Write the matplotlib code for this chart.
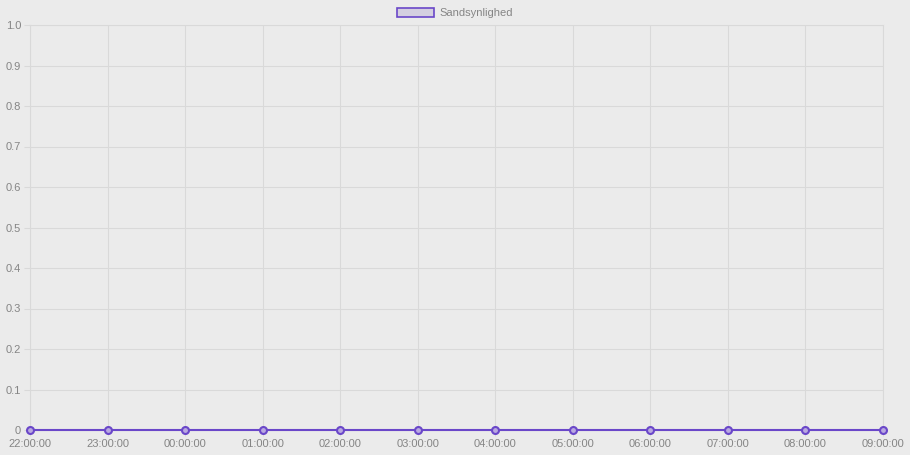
import matplotlib
matplotlib.use('Agg')
import matplotlib.pyplot as plt
from matplotlib.patches import Patch

plt.rcParams['font.family'] = ['Liberation Sans', 'DejaVu Sans']

times = ['22:00:00', '23:00:00', '00:00:00', '01:00:00', '02:00:00', '03:00:00',
         '04:00:00', '05:00:00', '06:00:00', '07:00:00', '08:00:00', '09:00:00']
probability = [0, 0, 0, 0, 0, 0, 0, 0, 0, 0, 0, 0]
y_ticks = [0, 0.1, 0.2, 0.3, 0.4, 0.5, 0.6, 0.7, 0.8, 0.9, 1.0]
y_labels = ['0', '0.1', '0.2', '0.3', '0.4', '0.5', '0.6', '0.7', '0.8', '0.9', '1.0']

bg = '#ebebeb'
grid_c = '#d9d9d9'
line_c = '#6a47c9'
text_c = '#858585'

fig = plt.figure(figsize=(9.1, 4.55), dpi=100)
fig.patch.set_facecolor(bg)
ax = fig.add_axes([30/910, 25/455, 853/910, 405/455])
ax.set_facecolor(bg)

x = list(range(len(times)))
ax.plot(x, probability, color=line_c, lw=1.5, marker='o', ms=5,
        markerfacecolor='#b9a9e0', markeredgecolor=line_c, markeredgewidth=1.5,
        clip_on=False, zorder=3)

ax.set_xlim(0, len(times) - 1)
ax.set_ylim(0, 1.0)
ax.set_xticks(x)
ax.set_xticklabels(times)
ax.set_yticks(y_ticks)
ax.set_yticklabels(y_labels)
ax.grid(True, color=grid_c, lw=0.8)
ax.tick_params(colors=grid_c, labelcolor=text_c, labelsize=8, length=4, width=0.8, pad=2.5)
for sp in ax.spines.values():
    sp.set_color(grid_c)
    sp.set_linewidth(0.8)

leg = fig.legend(handles=[Patch(facecolor='#d4cfe0', edgecolor=line_c, lw=1.2,
                                label='Sandsynlighed')],
                 loc='upper center', bbox_to_anchor=(0.5, 1.0), frameon=False,
                 fontsize=8, handlelength=3.3, handleheight=0.9, handletextpad=0.5,
                 borderaxespad=0.3)
for t in leg.get_texts():
    t.set_color(text_c)

fig.savefig('out.png', dpi=100, facecolor=bg)
